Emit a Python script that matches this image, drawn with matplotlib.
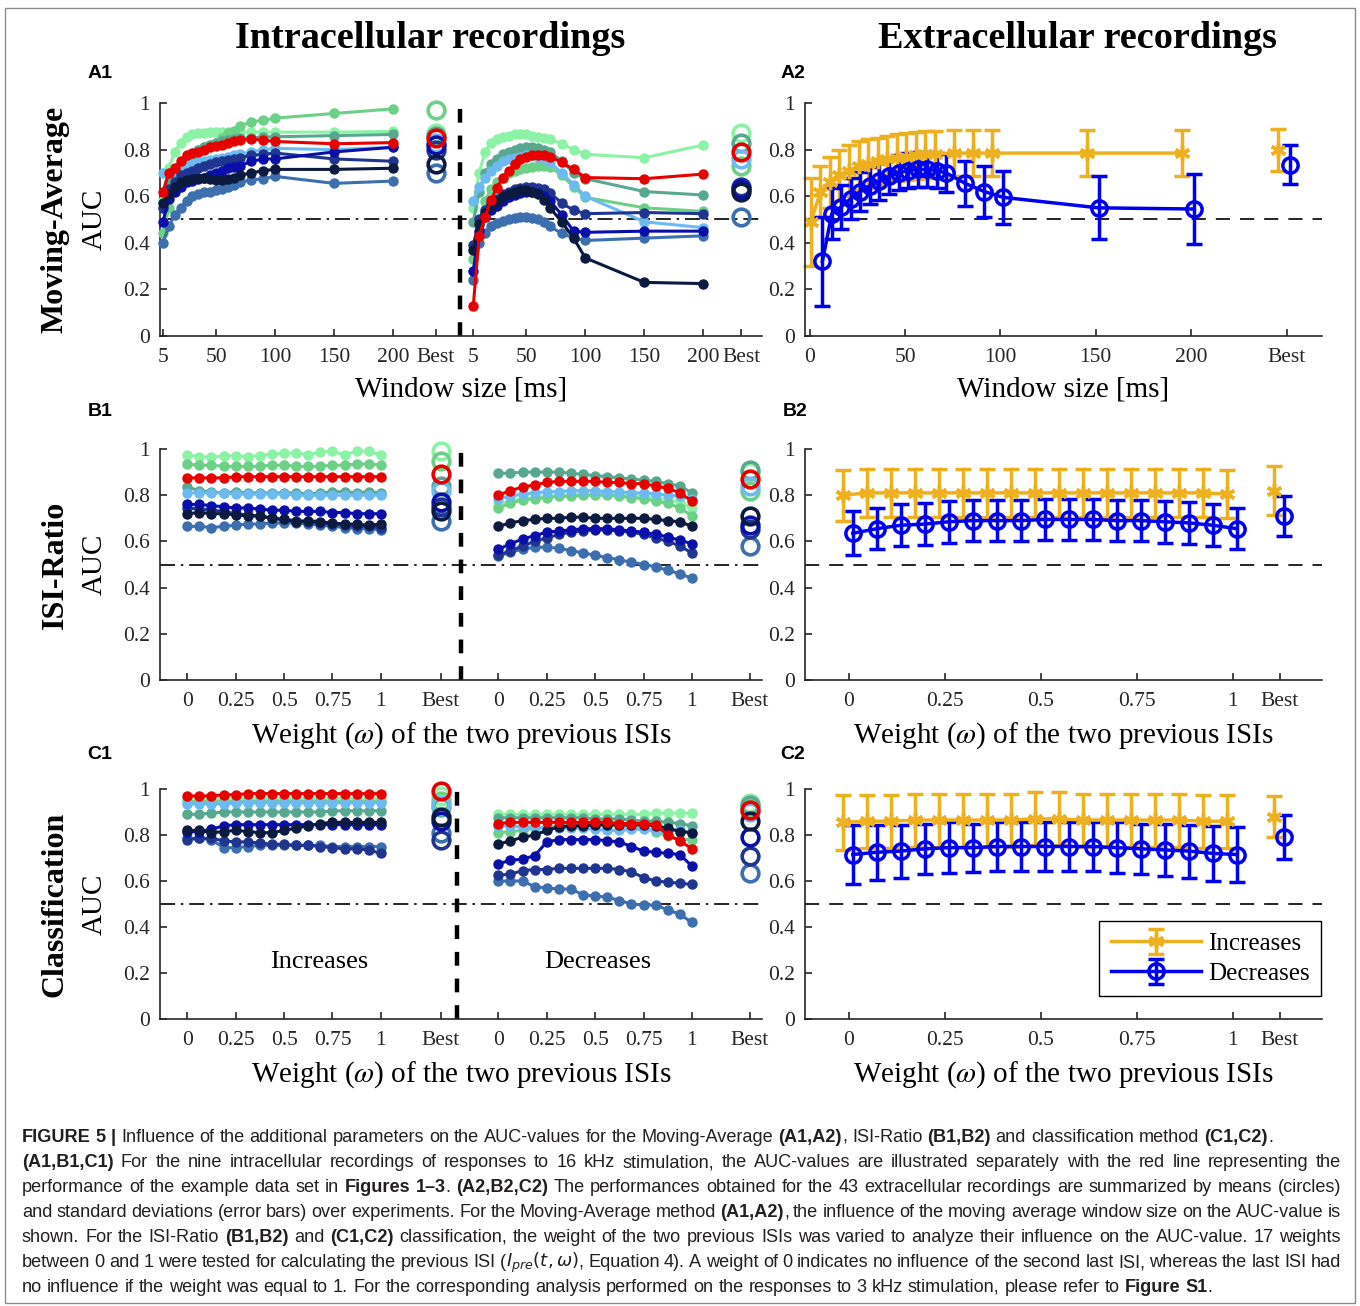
import numpy as np
import matplotlib
matplotlib.use('Agg')
import matplotlib.pyplot as plt
from matplotlib import font_manager
from matplotlib.transforms import IdentityTransform
from matplotlib.patches import Rectangle

W, H = 1360, 1306

# ---------------------------------------------------------------- data
WIN = [5, 10, 15, 20, 25, 30, 35, 40, 45, 50, 55, 60, 65, 70, 80, 90, 100, 150, 200]
WEIGHTS = [0, 0.0625, 0.125, 0.1875, 0.25, 0.3125, 0.375, 0.4375, 0.5,
           0.5625, 0.625, 0.6875, 0.75, 0.8125, 0.875, 0.9375, 1]

COLORS = {'mint': '#8CF2A6', 'green': '#6CD087', 'teal': '#58A890',
          'lblue': '#6CBAF0', 'red': '#E60000', 'blue': '#0A0FAA',
          'navy': '#20358F', 'dark': '#0B1A3E', 'steel': '#3D6FAE'}
ORDER = ['mint', 'green', 'teal', 'lblue', 'steel', 'navy', 'blue', 'dark', 'red']

# A1: Moving-Average, intracellular (increases | decreases)
A1_INC = {
    'green': [0.44, 0.55, 0.65, 0.72, 0.76, 0.78, 0.80, 0.81, 0.82, 0.83, 0.85, 0.87, 0.88, 0.90, 0.92, 0.925, 0.935, 0.955, 0.975],
    'mint':  [0.58, 0.72, 0.79, 0.83, 0.855, 0.865, 0.87, 0.87, 0.875, 0.875, 0.875, 0.875, 0.875, 0.875, 0.875, 0.875, 0.875, 0.875, 0.878],
    'teal':  [0.55, 0.66, 0.70, 0.74, 0.77, 0.78, 0.80, 0.81, 0.82, 0.83, 0.835, 0.84, 0.845, 0.85, 0.85, 0.855, 0.855, 0.86, 0.865],
    'lblue': [0.70, 0.70, 0.71, 0.72, 0.73, 0.74, 0.745, 0.75, 0.755, 0.76, 0.765, 0.77, 0.775, 0.78, 0.79, 0.80, 0.805, 0.80, 0.81],
    'red':   [0.62, 0.70, 0.72, 0.75, 0.775, 0.785, 0.79, 0.80, 0.81, 0.815, 0.82, 0.83, 0.835, 0.84, 0.845, 0.84, 0.835, 0.825, 0.83],
    'blue':  [0.49, 0.59, 0.62, 0.64, 0.66, 0.665, 0.675, 0.68, 0.69, 0.70, 0.71, 0.72, 0.725, 0.73, 0.75, 0.76, 0.76, 0.79, 0.81],
    'navy':  [0.55, 0.63, 0.66, 0.69, 0.70, 0.71, 0.72, 0.73, 0.74, 0.745, 0.75, 0.755, 0.76, 0.765, 0.775, 0.78, 0.785, 0.76, 0.75],
    'dark':  [0.57, 0.61, 0.64, 0.66, 0.67, 0.675, 0.68, 0.68, 0.675, 0.67, 0.67, 0.675, 0.68, 0.69, 0.70, 0.71, 0.715, 0.715, 0.72],
    'steel': [0.40, 0.47, 0.52, 0.55, 0.58, 0.60, 0.61, 0.62, 0.62, 0.625, 0.63, 0.64, 0.65, 0.66, 0.67, 0.675, 0.685, 0.655, 0.665],
}
A1_INC_BEST = {'green': 0.97, 'mint': 0.87, 'teal': 0.86, 'red': 0.85, 'lblue': 0.83,
               'blue': 0.82, 'navy': 0.80, 'dark': 0.74, 'steel': 0.70}
A1_DEC = {
    'mint':  [0.55, 0.70, 0.79, 0.83, 0.845, 0.855, 0.86, 0.865, 0.865, 0.865, 0.86, 0.855, 0.85, 0.845, 0.825, 0.80, 0.78, 0.765, 0.82],
    'teal':  [0.49, 0.62, 0.70, 0.74, 0.76, 0.78, 0.79, 0.80, 0.805, 0.81, 0.81, 0.805, 0.80, 0.79, 0.75, 0.70, 0.675, 0.62, 0.605],
    'lblue': [0.58, 0.64, 0.68, 0.71, 0.73, 0.75, 0.76, 0.765, 0.77, 0.775, 0.775, 0.77, 0.76, 0.745, 0.70, 0.65, 0.60, 0.49, 0.465],
    'red':   [0.13, 0.43, 0.51, 0.585, 0.635, 0.68, 0.71, 0.74, 0.76, 0.77, 0.775, 0.775, 0.775, 0.77, 0.745, 0.715, 0.68, 0.675, 0.695],
    'green': [0.33, 0.48, 0.58, 0.63, 0.66, 0.68, 0.70, 0.71, 0.715, 0.72, 0.725, 0.73, 0.73, 0.725, 0.69, 0.64, 0.595, 0.55, 0.535],
    'navy':  [0.39, 0.50, 0.54, 0.57, 0.59, 0.61, 0.62, 0.63, 0.635, 0.64, 0.64, 0.635, 0.63, 0.615, 0.57, 0.54, 0.525, 0.53, 0.525],
    'blue':  [0.28, 0.45, 0.51, 0.54, 0.56, 0.58, 0.595, 0.605, 0.615, 0.62, 0.62, 0.615, 0.60, 0.58, 0.52, 0.45, 0.445, 0.45, 0.45],
    'dark':  [0.37, 0.48, 0.53, 0.56, 0.58, 0.60, 0.61, 0.62, 0.625, 0.625, 0.62, 0.61, 0.585, 0.55, 0.49, 0.42, 0.335, 0.23, 0.225],
    'steel': [0.24, 0.40, 0.44, 0.47, 0.485, 0.495, 0.50, 0.505, 0.51, 0.51, 0.505, 0.50, 0.49, 0.47, 0.44, 0.42, 0.41, 0.42, 0.43],
}
A1_DEC_BEST = {'mint': 0.87, 'teal': 0.83, 'red': 0.79, 'lblue': 0.76, 'green': 0.73,
               'navy': 0.64, 'blue': 0.63, 'dark': 0.62, 'steel': 0.51}

# B1: ISI-Ratio, intracellular
B1_INC = {
    'mint':  [0.975, 0.967, 0.964, 0.97, 0.97, 0.967, 0.971, 0.978, 0.981, 0.984, 0.974, 0.988, 0.99, 0.975, 0.99, 0.99, 0.975],
    'green': [0.935, 0.93, 0.93, 0.925, 0.925, 0.925, 0.925, 0.93, 0.93, 0.925, 0.925, 0.925, 0.93, 0.93, 0.935, 0.935, 0.93],
    'red':   [0.875, 0.875, 0.875, 0.875, 0.88, 0.88, 0.88, 0.88, 0.88, 0.88, 0.88, 0.88, 0.88, 0.88, 0.88, 0.88, 0.88],
    'teal':  [0.835, 0.82, 0.815, 0.81, 0.815, 0.81, 0.81, 0.81, 0.81, 0.81, 0.805, 0.81, 0.815, 0.815, 0.81, 0.815, 0.81],
    'lblue': [0.81, 0.81, 0.81, 0.81, 0.805, 0.805, 0.805, 0.805, 0.805, 0.80, 0.80, 0.80, 0.80, 0.80, 0.80, 0.80, 0.80],
    'blue':  [0.76, 0.76, 0.755, 0.75, 0.745, 0.745, 0.74, 0.735, 0.735, 0.73, 0.73, 0.73, 0.725, 0.725, 0.72, 0.72, 0.72],
    'navy':  [0.745, 0.74, 0.735, 0.73, 0.72, 0.715, 0.71, 0.70, 0.695, 0.69, 0.685, 0.68, 0.675, 0.67, 0.665, 0.665, 0.66],
    'dark':  [0.72, 0.725, 0.72, 0.72, 0.715, 0.71, 0.71, 0.70, 0.695, 0.685, 0.69, 0.685, 0.68, 0.675, 0.675, 0.67, 0.675],
    'steel': [0.665, 0.665, 0.66, 0.665, 0.67, 0.675, 0.675, 0.68, 0.68, 0.68, 0.675, 0.67, 0.665, 0.66, 0.655, 0.655, 0.65],
}
B1_INC_BEST = {'mint': 0.99, 'green': 0.95, 'red': 0.89, 'teal': 0.84, 'lblue': 0.82,
               'blue': 0.77, 'navy': 0.75, 'dark': 0.73, 'steel': 0.69}
B1_DEC = {
    'teal':  [0.895, 0.895, 0.90, 0.90, 0.90, 0.90, 0.895, 0.89, 0.885, 0.88, 0.875, 0.87, 0.865, 0.86, 0.85, 0.84, 0.81],
    'red':   [0.80, 0.82, 0.835, 0.845, 0.855, 0.86, 0.86, 0.86, 0.86, 0.855, 0.855, 0.85, 0.85, 0.84, 0.83, 0.81, 0.775],
    'lblue': [0.785, 0.795, 0.805, 0.81, 0.815, 0.815, 0.82, 0.82, 0.82, 0.815, 0.815, 0.81, 0.81, 0.805, 0.80, 0.795, 0.785],
    'mint':  [0.76, 0.775, 0.785, 0.79, 0.795, 0.80, 0.80, 0.805, 0.805, 0.805, 0.80, 0.80, 0.795, 0.79, 0.78, 0.77, 0.745],
    'green': [0.745, 0.765, 0.78, 0.785, 0.79, 0.795, 0.795, 0.80, 0.80, 0.80, 0.795, 0.79, 0.785, 0.775, 0.765, 0.745, 0.71],
    'dark':  [0.665, 0.68, 0.69, 0.695, 0.70, 0.70, 0.705, 0.705, 0.70, 0.70, 0.70, 0.70, 0.70, 0.695, 0.69, 0.685, 0.665],
    'blue':  [0.565, 0.59, 0.61, 0.625, 0.64, 0.645, 0.65, 0.655, 0.655, 0.655, 0.65, 0.645, 0.64, 0.63, 0.62, 0.605, 0.59],
    'navy':  [0.54, 0.56, 0.58, 0.60, 0.615, 0.63, 0.64, 0.645, 0.65, 0.65, 0.645, 0.64, 0.63, 0.615, 0.60, 0.58, 0.55],
    'steel': [0.535, 0.555, 0.565, 0.575, 0.575, 0.57, 0.56, 0.55, 0.54, 0.53, 0.52, 0.51, 0.50, 0.49, 0.475, 0.46, 0.44],
}
B1_DEC_BEST = {'teal': 0.91, 'mint': 0.90, 'red': 0.87, 'lblue': 0.84, 'green': 0.82,
               'dark': 0.71, 'blue': 0.67, 'navy': 0.655, 'steel': 0.58}

# C1: classification, intracellular
C1_INC = {
    'red':   [0.97, 0.97, 0.97, 0.975, 0.975, 0.98, 0.98, 0.98, 0.98, 0.98, 0.98, 0.98, 0.98, 0.98, 0.98, 0.98, 0.98],
    'mint':  [0.96, 0.96, 0.96, 0.96, 0.96, 0.96, 0.96, 0.96, 0.96, 0.96, 0.96, 0.96, 0.96, 0.96, 0.96, 0.96, 0.96],
    'green': [0.95, 0.95, 0.95, 0.95, 0.95, 0.95, 0.95, 0.95, 0.95, 0.95, 0.95, 0.95, 0.95, 0.95, 0.95, 0.95, 0.95],
    'lblue': [0.935, 0.935, 0.935, 0.935, 0.94, 0.94, 0.94, 0.94, 0.94, 0.94, 0.94, 0.94, 0.94, 0.94, 0.94, 0.94, 0.94],
    'teal':  [0.89, 0.89, 0.895, 0.90, 0.90, 0.90, 0.90, 0.90, 0.90, 0.90, 0.90, 0.90, 0.905, 0.905, 0.905, 0.905, 0.905],
    'blue':  [0.815, 0.815, 0.825, 0.84, 0.845, 0.845, 0.845, 0.845, 0.845, 0.845, 0.845, 0.845, 0.845, 0.845, 0.845, 0.845, 0.845],
    'dark':  [0.82, 0.82, 0.81, 0.815, 0.82, 0.815, 0.81, 0.81, 0.82, 0.83, 0.84, 0.85, 0.855, 0.855, 0.855, 0.855, 0.855],
    'navy':  [0.78, 0.785, 0.785, 0.775, 0.77, 0.77, 0.765, 0.76, 0.76, 0.755, 0.755, 0.75, 0.745, 0.74, 0.74, 0.735, 0.72],
    'steel': [0.785, 0.785, 0.78, 0.745, 0.745, 0.75, 0.755, 0.755, 0.755, 0.755, 0.755, 0.755, 0.75, 0.75, 0.75, 0.75, 0.75],
}
C1_INC_BEST = {'red': 0.99, 'mint': 0.97, 'green': 0.95, 'lblue': 0.93, 'teal': 0.92,
               'dark': 0.88, 'blue': 0.86, 'steel': 0.81, 'navy': 0.78}
C1_DEC = {
    'mint':  [0.89, 0.89, 0.89, 0.89, 0.89, 0.89, 0.89, 0.89, 0.89, 0.89, 0.89, 0.89, 0.89, 0.895, 0.895, 0.895, 0.895],
    'teal':  [0.875, 0.875, 0.875, 0.875, 0.875, 0.875, 0.875, 0.875, 0.87, 0.87, 0.87, 0.865, 0.86, 0.86, 0.855, 0.85, 0.84],
    'red':   [0.85, 0.855, 0.855, 0.855, 0.855, 0.855, 0.855, 0.855, 0.855, 0.855, 0.85, 0.85, 0.85, 0.845, 0.80, 0.775, 0.74],
    'lblue': [0.84, 0.84, 0.835, 0.835, 0.83, 0.83, 0.83, 0.83, 0.825, 0.82, 0.82, 0.825, 0.825, 0.82, 0.82, 0.82, 0.81],
    'green': [0.81, 0.815, 0.82, 0.83, 0.835, 0.84, 0.84, 0.84, 0.84, 0.84, 0.84, 0.835, 0.83, 0.815, 0.795, 0.78, 0.78],
    'dark':  [0.76, 0.775, 0.79, 0.80, 0.82, 0.835, 0.84, 0.84, 0.845, 0.845, 0.845, 0.845, 0.845, 0.84, 0.83, 0.815, 0.81],
    'blue':  [0.675, 0.69, 0.695, 0.71, 0.77, 0.78, 0.78, 0.78, 0.78, 0.775, 0.77, 0.75, 0.73, 0.725, 0.72, 0.715, 0.665],
    'navy':  [0.625, 0.63, 0.645, 0.65, 0.65, 0.655, 0.655, 0.655, 0.655, 0.655, 0.65, 0.64, 0.615, 0.60, 0.595, 0.59, 0.585],
    'steel': [0.60, 0.60, 0.60, 0.575, 0.57, 0.565, 0.565, 0.54, 0.535, 0.53, 0.515, 0.50, 0.495, 0.495, 0.475, 0.455, 0.42],
}
C1_DEC_BEST = {'mint': 0.94, 'teal': 0.93, 'green': 0.92, 'lblue': 0.90, 'red': 0.91,
               'dark': 0.86, 'blue': 0.79, 'navy': 0.71, 'steel': 0.635}

# A2/B2/C2: extracellular, mean and std over experiments
A2_INC_MEAN = [0.49, 0.62, 0.66, 0.69, 0.71, 0.73, 0.74, 0.75, 0.76, 0.765, 0.77, 0.775, 0.78, 0.78, 0.785, 0.785, 0.785, 0.785, 0.785]
A2_INC_STD = [0.19, 0.11, 0.11, 0.11, 0.11, 0.105, 0.105, 0.10, 0.10, 0.10, 0.10, 0.10, 0.10, 0.10, 0.10, 0.10, 0.10, 0.10, 0.10]
A2_DEC_MEAN = [0.32, 0.525, 0.555, 0.59, 0.62, 0.645, 0.665, 0.685, 0.70, 0.71, 0.715, 0.715, 0.71, 0.70, 0.655, 0.62, 0.595, 0.55, 0.545]
A2_DEC_STD = [0.19, 0.11, 0.095, 0.09, 0.085, 0.08, 0.08, 0.075, 0.075, 0.075, 0.075, 0.075, 0.075, 0.08, 0.095, 0.11, 0.115, 0.135, 0.15]
A2_BEST_INC = (0.80, 0.09)
A2_BEST_DEC = (0.735, 0.083)

B2_INC_MEAN = [0.80, 0.81, 0.81, 0.81, 0.81, 0.81, 0.81, 0.81, 0.81, 0.81, 0.81, 0.81, 0.81, 0.81, 0.81, 0.81, 0.805]
B2_INC_STD = [0.11, 0.105, 0.105, 0.105, 0.105, 0.105, 0.105, 0.105, 0.105, 0.105, 0.105, 0.105, 0.105, 0.105, 0.105, 0.105, 0.105]
B2_DEC_MEAN = [0.635, 0.655, 0.67, 0.675, 0.685, 0.69, 0.69, 0.69, 0.695, 0.695, 0.695, 0.69, 0.69, 0.685, 0.68, 0.67, 0.655]
B2_DEC_STD = [0.095, 0.09, 0.09, 0.09, 0.09, 0.09, 0.09, 0.09, 0.09, 0.09, 0.09, 0.09, 0.09, 0.09, 0.09, 0.09, 0.09]
B2_BEST_INC = (0.82, 0.105)
B2_BEST_DEC = (0.71, 0.088)

C2_INC_MEAN = [0.855, 0.86, 0.86, 0.865, 0.865, 0.865, 0.865, 0.865, 0.87, 0.87, 0.865, 0.865, 0.865, 0.865, 0.865, 0.86, 0.86]
C2_INC_STD = [0.12, 0.115, 0.115, 0.115, 0.115, 0.115, 0.115, 0.115, 0.115, 0.115, 0.115, 0.115, 0.115, 0.115, 0.115, 0.115, 0.115]
C2_DEC_MEAN = [0.715, 0.725, 0.73, 0.74, 0.745, 0.745, 0.75, 0.75, 0.75, 0.75, 0.75, 0.745, 0.74, 0.735, 0.73, 0.72, 0.715]
C2_DEC_STD = [0.13, 0.12, 0.115, 0.11, 0.11, 0.105, 0.105, 0.105, 0.105, 0.105, 0.105, 0.11, 0.11, 0.115, 0.115, 0.12, 0.12]
C2_BEST_INC = (0.88, 0.09)
C2_BEST_DEC = (0.79, 0.095)

YTICKS = [0, 0.2, 0.4, 0.6, 0.8, 1]
YTICKLABELS = ['0', '0.2', '0.4', '0.6', '0.8', '1']
WIN_LABELS = ['5', '50', '100', '150', '200', 'Best']
W_LABELS = ['0', '0.25', '0.5', '0.75', '1', 'Best']

YEL = '#EDB120'
BLU = '#0000F0'
AX_COL = '#262626'

plt.rcParams['font.family'] = 'Liberation Serif'
plt.rcParams['mathtext.fontset'] = 'stix'

fig = plt.figure(figsize=(W / 100, H / 100), dpi=100)


def axes_px(x0, y0, x1, y1):
    return fig.add_axes([x0 / W, 1 - y1 / H, (x1 - x0) / W, (y1 - y0) / H])


def style(ax, xlim, ticks, labels):
    ax.set_xlim(xlim)
    ax.set_ylim(0, 1)
    ax.set_xticks(ticks)
    ax.set_xticklabels(labels)
    ax.set_yticks(YTICKS)
    ax.set_yticklabels(YTICKLABELS)
    ax.spines['top'].set_visible(False)
    ax.spines['right'].set_visible(False)
    for s in ['left', 'bottom']:
        ax.spines[s].set_color(AX_COL)
        ax.spines[s].set_linewidth(1.2)
    ax.tick_params(direction='in', length=5, width=1.2, colors=AX_COL,
                   labelsize=15.5, pad=7)
    ax.tick_params(axis='x', pad=8.5)
    ax.patch.set_alpha(0)


def intra(ax, xl, inc, inc_best, xr, dec, dec_best, off, best1, best2, vline):
    ax.axhline(0.5, color='k', lw=1.2, ls=(0, (9, 3.5, 1.5, 3.5)), zorder=1)
    ax.axvline(vline, color='k', lw=3.2, ls=(0, (3.1, 2.9)), zorder=1)
    xr_shift = np.asarray(xr) + off
    for name in ORDER:
        c = COLORS[name]
        ax.plot(xl, inc[name], '-o', color=c, lw=2.2, ms=6.5, clip_on=False, zorder=3)
        ax.plot(xr_shift, dec[name], '-o', color=c, lw=2.2, ms=6.5, clip_on=False, zorder=3)
    for name in ORDER:
        c = COLORS[name]
        ax.plot([best1], [inc_best[name]], 'o', mfc='none', mec=c, ms=12, mew=2.6,
                clip_on=False, zorder=3)
        ax.plot([best2], [dec_best[name]], 'o', mfc='none', mec=c, ms=12, mew=2.6,
                clip_on=False, zorder=3)


def extra(ax, x, inc_m, inc_s, dec_m, dec_s, best_x, b_inc, b_dec, dx_inc, dx_dec):
    ax.axhline(0.5, color='k', lw=1.2, ls=(0, (8.5, 6)), zorder=1)
    kw = dict(lw=2.5, elinewidth=2.5, capsize=6, capthick=2.5, mew=2.5, clip_on=False)
    xi = np.asarray(x) + dx_inc
    xd = np.asarray(x) + dx_dec
    h_inc = ax.errorbar(xi, inc_m, yerr=inc_s, color=YEL, marker=(6, 2, 0), ms=11, **kw)
    ax.errorbar([best_x + dx_inc], [b_inc[0]], yerr=[b_inc[1]], color=YEL,
                marker=(6, 2, 0), ms=11, ls='none', **kw)
    h_dec = ax.errorbar(xd, dec_m, yerr=dec_s, color=BLU, marker='o', mfc='none', ms=11, **kw)
    ax.errorbar([best_x + dx_dec], [b_dec[0]], yerr=[b_dec[1]], color=BLU,
                marker='o', mfc='none', ms=11, ls='none', **kw)
    return h_inc, h_dec


# ---------------------------------------------------------------- geometry
LX0, LX1, RX0, RX1 = 160, 762, 805, 1322
ROWS = {'A': (103, 336), 'B': (449, 680), 'C': (789, 1019)}
XLAB_PAD = 7

# Moving-average window axes (left and right columns)
A_OFF = 263
A_BEST1, A_BEST2, A_VLINE = 236.4, 495.0, 256.7
A_LEFT_TICKS = [5, 50, 100, 150, 200, A_BEST1, 5 + A_OFF, 50 + A_OFF, 100 + A_OFF,
                150 + A_OFF, 200 + A_OFF, A_BEST2]
A2_BEST = 250.4

# Weight axes
W_OFF = 1.607
W_BEST1, W_BEST2 = 1.309, 2.906
W_LEFT_TICKS = [0, 0.25, 0.5, 0.75, 1, W_BEST1, W_OFF, 0.25 + W_OFF, 0.5 + W_OFF,
                0.75 + W_OFF, 1 + W_OFF, W_BEST2]
W2_BEST = 1.122

# ---------------------------------------------------------------- row A
ya0, ya1 = ROWS['A']
ax = axes_px(LX0, ya0, LX1, ya1)
style(ax, (2.5, 512.7), A_LEFT_TICKS, WIN_LABELS + WIN_LABELS)
intra(ax, WIN, A1_INC, A1_INC_BEST, WIN, A1_DEC, A1_DEC_BEST, A_OFF, A_BEST1, A_BEST2, A_VLINE)
ax.set_xlabel('Window size [ms]', fontsize=21, labelpad=XLAB_PAD)

ax = axes_px(RX0, ya0, RX1, ya1)
style(ax, (-2.6, 268.8), [0, 50, 100, 150, 200, A2_BEST], ['0', '50', '100', '150', '200', 'Best'])
extra(ax, WIN, A2_INC_MEAN, A2_INC_STD, A2_DEC_MEAN, A2_DEC_STD, A2_BEST,
      A2_BEST_INC, A2_BEST_DEC, -4.5, 1.5)
ax.set_xlabel('Window size [ms]', fontsize=21, labelpad=XLAB_PAD)

# ---------------------------------------------------------------- row B
yb0, yb1 = ROWS['B']
ax = axes_px(LX0, yb0, LX1, yb1)
style(ax, (-0.141, 2.969), W_LEFT_TICKS, W_LABELS + W_LABELS)
intra(ax, WEIGHTS, B1_INC, B1_INC_BEST, WEIGHTS, B1_DEC, B1_DEC_BEST, W_OFF, W_BEST1, W_BEST2, 1.414)
ax.set_xlabel(r'Weight ($\omega$) of the two previous ISIs', fontsize=21, labelpad=XLAB_PAD)

ax = axes_px(RX0, yb0, RX1, yb1)
style(ax, (-0.1146, 1.232), [0, 0.25, 0.5, 0.75, 1, W2_BEST], W_LABELS)
extra(ax, WEIGHTS, B2_INC_MEAN, B2_INC_STD, B2_DEC_MEAN, B2_DEC_STD, W2_BEST,
      B2_BEST_INC, B2_BEST_DEC, -0.015, 0.01)
ax.set_xlabel(r'Weight ($\omega$) of the two previous ISIs', fontsize=21, labelpad=XLAB_PAD)

# ---------------------------------------------------------------- row C
yc0, yc1 = ROWS['C']
ax = axes_px(LX0, yc0, LX1, yc1)
style(ax, (-0.141, 2.969), W_LEFT_TICKS, W_LABELS + W_LABELS)
intra(ax, WEIGHTS, C1_INC, C1_INC_BEST, WEIGHTS, C1_DEC, C1_DEC_BEST, W_OFF, W_BEST1, W_BEST2, 1.393)
ax.set_xlabel(r'Weight ($\omega$) of the two previous ISIs', fontsize=21, labelpad=XLAB_PAD)
ax.text(0.264, 0.248, 'Increases', transform=ax.transAxes, ha='center', va='center', fontsize=19)
ax.text(0.728, 0.248, 'Decreases', transform=ax.transAxes, ha='center', va='center', fontsize=19)

ax = axes_px(RX0, yc0, RX1, yc1)
style(ax, (-0.1146, 1.232), [0, 0.25, 0.5, 0.75, 1, W2_BEST], W_LABELS)
h_inc, h_dec = extra(ax, WEIGHTS, C2_INC_MEAN, C2_INC_STD, C2_DEC_MEAN, C2_DEC_STD, W2_BEST,
                     C2_BEST_INC, C2_BEST_DEC, -0.015, 0.01)
ax.set_xlabel(r'Weight ($\omega$) of the two previous ISIs', fontsize=21, labelpad=XLAB_PAD)
leg = ax.legend([h_inc, h_dec], ['Increases', 'Decreases'], loc='lower right',
                bbox_to_anchor=(0.998, 0.1), borderaxespad=0, fancybox=False, edgecolor='k',
                framealpha=1, fontsize=18, handlelength=3.6, borderpad=0.45, labelspacing=0.3,
                handletextpad=0.3)
leg.get_frame().set_linewidth(1.0)

# ---------------------------------------------------------------- titles and labels
def ftext(x, y, s, **kw):
    return fig.text(x / W, 1 - y / H, s, **kw)


ftext(430, 38, 'Intracellular recordings', ha='center', va='center', fontsize=27.5, fontweight='bold')
ftext(1077, 38, 'Extracellular recordings', ha='center', va='center', fontsize=27.5, fontweight='bold')
for lab, x, y in [('A1', 100, 73), ('A2', 793, 73), ('B1', 100, 412), ('B2', 795, 412),
                  ('C1', 100, 755), ('C2', 793, 755)]:
    ftext(x, y, lab, ha='center', va='center', fontsize=14, fontweight='bold',
          family='Liberation Sans')
for name, row in [('Moving-Average', 'A'), ('ISI-Ratio', 'B'), ('Classification', 'C')]:
    yc = sum(ROWS[row]) / 2
    ftext(55, yc, name, ha='center', va='center', rotation=90, fontsize=23, fontweight='bold')
    ftext(95, yc, 'AUC', ha='center', va='center', rotation=90, fontsize=21)

fig.patches.append(Rectangle((5 / W, 1 - 1303 / H), 1350 / W, 1295 / H, transform=fig.transFigure,
                             fill=False, edgecolor='#8a8a8a', lw=1.0))

# ---------------------------------------------------------------- caption
CAPTION = [
    ("**FIGURE 5 |** Influence of the additional parameters on the AUC-values for the Moving-Average "
     "**(A1,A2)**, ISI-Ratio **(B1,B2)** and classification method **(C1,C2)**.", False),
    ("**(A1,B1,C1)** For the nine intracellular recordings of responses to 16 kHz stimulation, "
     "the AUC-values are illustrated separately with the red line representing the", True),
    ("performance of the example data set in **Figures 1\u20133**. **(A2,B2,C2)** The performances "
     "obtained for the 43 extracellular recordings are summarized by means (circles)", True),
    ("and standard deviations (error bars) over experiments. For the Moving-Average method "
     "**(A1,A2)**, the influence of the moving average window size on the AUC-value is", True),
    ("shown. For the ISI-Ratio **(B1,B2)** and **(C1,C2)** classification, the weight of the two "
     "previous ISIs was varied to analyze their influence on the AUC-value. 17 weights", True),
    ("between 0 and 1 were tested for calculating the previous ISI ($I_{pre}(t,\\omega)$, "
     "Equation 4). A weight of 0 indicates no influence of the second last ISI, whereas the last ISI had", True),
    ("no influence if the weight was equal to 1. For the corresponding analysis performed on the "
     "responses to 3 kHz stimulation, please refer to **Figure S1**.", False),
]

names = {f.name for f in font_manager.fontManager.ttflist}
CAP_FONT = 'Liberation Sans Narrow' if 'Liberation Sans Narrow' in names else 'Liberation Sans'


def parse_words(s):
    words = [[]]
    bold = False
    i = 0
    while i < len(s):
        if s.startswith('**', i):
            bold = not bold
            i += 2
            continue
        if s[i] == '$':
            j = s.index('$', i + 1)
            words[-1].append([s[i:j + 1], bold])
            i = j + 1
            continue
        if s[i] == ' ':
            if words[-1]:
                words.append([])
            i += 1
            continue
        if words[-1] and words[-1][-1][1] == bold and not words[-1][-1][0].startswith('$'):
            words[-1][-1][0] += s[i]
        else:
            words[-1].append([s[i], bold])
        i += 1
    return [w for w in words if w]


renderer = fig.canvas.get_renderer()


def cap_piece(x, y, s, bold, size):
    t = fig.text(x, y, s, transform=IdentityTransform(), fontsize=size,
                 family=CAP_FONT, fontweight='bold' if bold else 'normal',
                 va='baseline', ha='left', color='#231f20', math_fontfamily='dejavusans')
    return t, t.get_window_extent(renderer=renderer).width


def layout_caption(size, draw=True):
    tmp, sp = cap_piece(0, 0, 'n n', False, size)
    tmp2, nn = cap_piece(0, 0, 'nn', False, size)
    tmp.remove()
    tmp2.remove()
    space = sp - nn
    widest = 0
    for i, (line, just) in enumerate(CAPTION):
        y = H - (1142 + 25 * i)
        words = parse_words(line)
        placed = []
        for w in words:
            pieces = []
            for s, b in w:
                t, wd = cap_piece(0, y, s, b, size)
                pieces.append((t, wd))
            placed.append(pieces)
        natural = sum(sum(p[1] for p in w) for w in placed) + space * (len(placed) - 1)
        widest = max(widest, natural)
        gap = space
        if just and len(placed) > 1:
            gap = (1341 - 22 - natural) / (len(placed) - 1) + space
        x = 22
        for w in placed:
            for t, wd in w:
                if draw:
                    t.set_position((x, y))
                else:
                    t.remove()
                x += wd
            x += gap
    return widest


cap_size = 13.5
widest = layout_caption(cap_size, draw=False)
if widest > 1345:
    cap_size = cap_size * 1340 / widest
layout_caption(cap_size)

fig.savefig('out.png', dpi=100, facecolor='white')
